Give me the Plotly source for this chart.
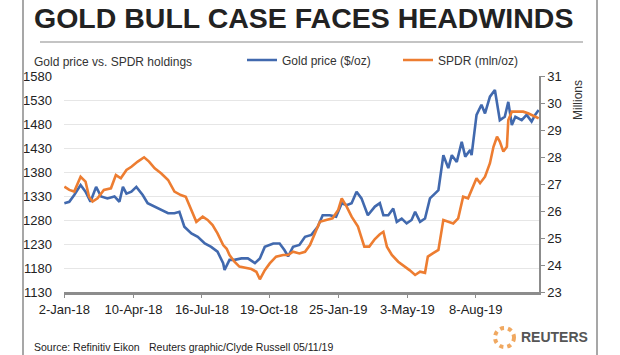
import plotly.graph_objects as go

# ---------------- data ----------------
gold_dates = ["2018-01-02","2018-01-09","2018-01-16","2018-01-25","2018-02-01","2018-02-08","2018-02-16","2018-02-23",
              "2018-03-04","2018-03-14","2018-03-21","2018-03-26","2018-03-31","2018-04-07","2018-04-14","2018-04-23",
              "2018-04-30","2018-05-10","2018-05-19","2018-05-29","2018-06-07","2018-06-14","2018-06-21","2018-07-01",
              "2018-07-10","2018-07-20","2018-07-29","2018-08-07","2018-08-15","2018-08-17","2018-08-24","2018-08-31",
              "2018-09-10","2018-09-19","2018-09-29","2018-10-06","2018-10-13","2018-10-25","2018-11-03","2018-11-10",
              "2018-11-15","2018-11-22","2018-12-01","2018-12-09","2018-12-18","2018-12-27","2019-01-03","2019-01-13",
              "2019-01-22","2019-01-30","2019-02-06","2019-02-13","2019-02-20","2019-02-27","2019-03-08","2019-03-18",
              "2019-03-25","2019-03-30","2019-04-06","2019-04-13","2019-04-18","2019-04-25","2019-05-02","2019-05-09",
              "2019-05-14","2019-05-21","2019-05-28","2019-06-04","2019-06-11","2019-06-16","2019-06-23","2019-06-30",
              "2019-07-05","2019-07-12","2019-07-19","2019-07-24","2019-07-31","2019-08-02","2019-08-09","2019-08-16",
              "2019-08-21","2019-08-28","2019-09-04","2019-09-11","2019-09-18","2019-09-23","2019-09-28","2019-10-03",
              "2019-10-12","2019-10-19","2019-10-26","2019-10-31","2019-11-05"]
gold_price = [1315,1318,1332,1353,1339,1318,1349,1329,1325,1329,1318,1349,1335,1339,1349,1332,1315,1308,1301,1294,
              1294,1297,1266,1252,1245,1231,1224,1214,1190,1176,1197,1197,1200,1200,1190,1200,1224,1231,1231,1217,
              1204,1224,1228,1245,1249,1266,1290,1290,1287,1315,1311,1315,1339,1325,1290,1308,1315,1290,1290,1304,
              1276,1283,1273,1280,1297,1276,1283,1325,1335,1342,1415,1388,1415,1401,1443,1412,1426,1415,1499,1520,
              1502,1537,1551,1488,1495,1526,1478,1495,1488,1499,1485,1499,1509]

spdr_dates = ["2018-01-02","2018-01-09","2018-01-16","2018-01-25","2018-02-01","2018-02-06","2018-02-11","2018-02-18",
              "2018-02-27","2018-03-09","2018-03-16","2018-03-23","2018-03-31","2018-04-07","2018-04-16","2018-04-25",
              "2018-05-02","2018-05-10","2018-05-19","2018-05-29","2018-06-07","2018-06-16","2018-06-23","2018-07-01",
              "2018-07-08","2018-07-17","2018-07-24","2018-07-31","2018-08-07","2018-08-15","2018-08-20","2018-08-24",
              "2018-08-31","2018-09-07","2018-09-17","2018-09-24","2018-10-01","2018-10-06","2018-10-13","2018-10-20",
              "2018-10-29","2018-11-08","2018-11-15","2018-11-22","2018-12-01","2018-12-09","2018-12-16","2018-12-23",
              "2018-12-30","2019-01-08","2019-01-17","2019-01-25","2019-01-30","2019-02-06","2019-02-13","2019-02-22",
              "2019-03-03","2019-03-10","2019-03-18","2019-03-25","2019-03-30","2019-04-04","2019-04-11","2019-04-20",
              "2019-04-30","2019-05-06","2019-05-14","2019-05-21","2019-05-28","2019-06-01","2019-06-08","2019-06-16",
              "2019-06-23","2019-06-30","2019-07-07","2019-07-14","2019-07-21","2019-07-28","2019-08-04","2019-08-09",
              "2019-08-14","2019-08-21","2019-08-28","2019-09-02","2019-09-07","2019-09-11","2019-09-16","2019-09-21",
              "2019-09-23","2019-09-28","2019-10-05","2019-10-14","2019-10-21","2019-10-31","2019-11-05"]
spdr_holdings = [26.90,26.78,26.72,27.27,27.09,26.53,26.35,26.47,26.78,26.84,27.33,27.21,27.52,27.64,27.83,27.99,
                 27.83,27.58,27.40,27.15,26.72,26.59,26.53,26.04,25.60,25.79,25.67,25.48,25.17,24.74,24.60,24.37,
                 24.12,23.94,23.88,23.85,23.75,23.47,23.81,24.06,24.31,24.37,24.37,24.49,24.43,24.49,24.74,25.17,
                 25.60,25.67,25.73,26.04,26.47,26.16,25.79,25.42,24.68,24.68,24.96,25.14,25.23,24.68,24.37,24.12,
                 23.94,23.81,23.63,23.75,23.71,24.31,24.43,24.56,25.67,25.60,25.54,25.73,26.53,26.47,26.90,27.21,
                 27.03,27.27,27.77,28.38,28.75,28.57,28.20,28.38,29.37,29.68,29.68,29.68,29.62,29.49,29.43]

x_tick_dates = ["2018-01-02","2018-04-10","2018-07-16","2018-10-19","2019-01-25","2019-05-03","2019-08-08"]
x_tick_labels = ["2-Jan-18","10-Apr-18","16-Jul-18","19-Oct-18","25-Jan-19","3-May-19","8-Aug-19"]
left_ticks = [1130,1180,1230,1280,1330,1380,1430,1480,1530,1580]
right_ticks = [23,24,25,26,27,28,29,30,31]

# ---------------- layout geometry ----------------
W, H = 620, 355
ML, MR, MT, MB = 64, 81, 76, 63
PW, PH = W - ML - MR, H - MT - MB

def px(x):
    return (x - ML) / PW

def py(y):
    return (H - MB - y) / PH

BLUE = "#4169ae"
ORANGE = "#ed7d31"
FONT = "Liberation Sans, Arial, sans-serif"

fig = go.Figure()
fig.add_trace(go.Scatter(x=gold_dates, y=gold_price, name="Gold price ($/oz)", mode="lines",
                         line=dict(color=BLUE, width=2.6), yaxis="y"))
fig.add_trace(go.Scatter(x=spdr_dates, y=spdr_holdings, name="SPDR (mln/oz)", mode="lines",
                         line=dict(color=ORANGE, width=2.6), yaxis="y2"))

annotations = [
    dict(text="<b>GOLD BULL CASE FACES HEADWINDS</b>", x=px(32), y=py(18), xref="paper", yref="paper",
         xanchor="left", yanchor="middle", showarrow=False, font=dict(family=FONT, size=28.5, color="#222222")),
    dict(text="Gold price vs. SPDR holdings", x=px(32), y=py(62), xref="paper", yref="paper",
         xanchor="left", yanchor="middle", showarrow=False, font=dict(family=FONT, size=12, color="#333333")),
    dict(text="Millions", x=px(578), y=py(100), xref="paper", yref="paper", textangle=-90,
         xanchor="center", yanchor="middle", showarrow=False, font=dict(family=FONT, size=12, color="#333333")),
    dict(text="Source: Refinitiv Eikon", x=px(32), y=py(347), xref="paper", yref="paper",
         xanchor="left", yanchor="middle", showarrow=False, font=dict(family=FONT, size=10.5, color="#222222")),
    dict(text="Reuters graphic/Clyde Russell 05/11/19", x=px(147), y=py(347), xref="paper", yref="paper",
         xanchor="left", yanchor="middle", showarrow=False, font=dict(family=FONT, size=10.5, color="#222222")),
    dict(text="<b>REUTERS</b>", x=px(519), y=py(337), xref="paper", yref="paper",
         xanchor="left", yanchor="middle", showarrow=False, font=dict(family=FONT, size=14, color="#555555")),
]

shapes = [
    dict(type="line", xref="paper", yref="paper", x0=px(40), x1=px(583), y0=py(42), y1=py(42),
         line=dict(color="#c4c4c4", width=2)),
    dict(type="rect", xref="paper", yref="paper", x0=px(23), x1=px(597), y0=py(-3), y1=py(358),
         line=dict(color="#8a8a8a", width=1.5), fillcolor="rgba(0,0,0,0)", layer="above"),
    dict(type="circle", xref="paper", yref="paper", x0=px(495), x1=px(514), y0=py(347), y1=py(328),
         line=dict(color="#f0a860", width=4, dash="dot")),
]

fig.update_layout(
    width=W, height=H,
    margin=dict(l=ML, r=MR, t=MT, b=MB, pad=0),
    paper_bgcolor="white", plot_bgcolor="white",
    font=dict(family=FONT, size=13, color="#333333"),
    showlegend=True,
    legend=dict(orientation="h", x=px(242), y=py(60), xanchor="left", yanchor="middle",
                font=dict(family=FONT, size=12, color="#333333"), bgcolor="rgba(0,0,0,0)",
                itemwidth=30, entrywidth=111, entrywidthmode="pixels", tracegroupgap=0),
    xaxis=dict(type="date", range=["2018-01-01 12:00", "2019-11-05 12:00"],
               tickmode="array", tickvals=x_tick_dates, ticktext=x_tick_labels,
               showgrid=False, showline=True, linecolor="#8c8c8c", linewidth=3,
               ticks="outside", ticklen=3, tickcolor="#8c8c8c", tickwidth=1,
               tickfont=dict(family=FONT, size=13, color="#222222"), zeroline=False),
    yaxis=dict(range=[1130, 1580], tickmode="array", tickvals=left_ticks,
               showgrid=True, gridcolor="#e6e6e6", gridwidth=1, showline=False, ticks="",
               ticklabelstandoff=11, tickfont=dict(family=FONT, size=13, color="#222222"), zeroline=False),
    yaxis2=dict(range=[23, 31], tickmode="array", tickvals=right_ticks, overlaying="y", side="right",
                showgrid=False, showline=True, linecolor="#8c8c8c", linewidth=1.5,
                ticks="outside", ticklen=4, tickcolor="#8c8c8c",
                tickfont=dict(family=FONT, size=13, color="#222222"), zeroline=False),
    annotations=annotations,
    shapes=shapes,
    hovermode=False,
)

fig.write_html("out.html", config={"displayModeBar": False},
               post_script="document.body.style.margin='0';document.body.style.overflow='hidden';")
